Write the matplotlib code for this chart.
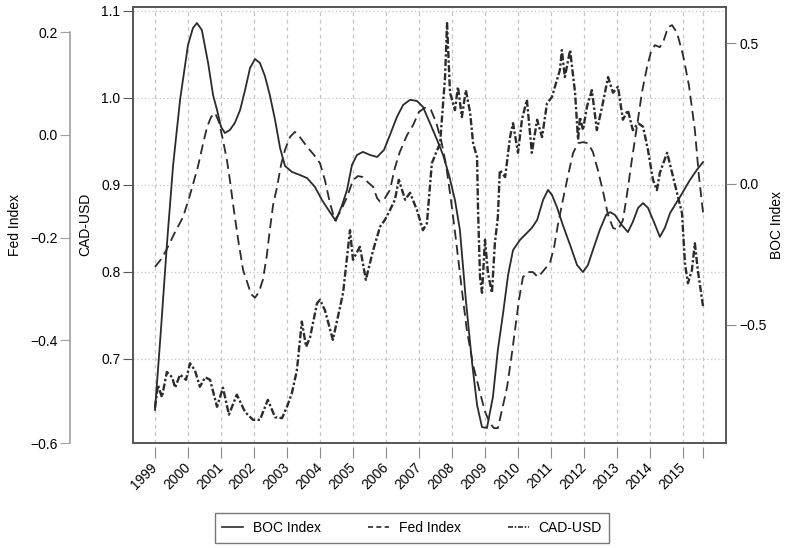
import matplotlib
matplotlib.use('Agg')
import matplotlib.pyplot as plt
from matplotlib.lines import Line2D

plt.rcParams['font.family'] = ['Liberation Sans', 'DejaVu Sans']
plt.rcParams['font.size'] = 10

LINE = '#2b2b2b'
BOX = '#555555'
GRID = '#c4c4c4'

# CAD-USD exchange rate (decimal year, level)
cad_year = [1999.00, 1999.09, 1999.21, 1999.36, 1999.52, 1999.61, 1999.76, 1999.85, 1999.94,
            2000.06, 2000.21, 2000.36, 2000.52, 2000.67, 2000.88, 2001.06, 2001.24, 2001.48,
            2001.73, 2001.97, 2002.18, 2002.42, 2002.64, 2002.85, 2003.00, 2003.15, 2003.30,
            2003.45, 2003.58, 2003.70, 2003.91, 2004.00, 2004.15, 2004.39, 2004.61, 2004.70,
            2004.91, 2005.00, 2005.21, 2005.39, 2005.61, 2005.82, 2005.97, 2006.12, 2006.27,
            2006.39, 2006.58, 2006.73, 2006.94, 2007.12, 2007.24, 2007.39, 2007.55, 2007.64,
            2007.79, 2007.85, 2007.94, 2008.09, 2008.18, 2008.30, 2008.42, 2008.55, 2008.64,
            2008.76, 2008.79, 2008.85, 2008.91, 2009.00, 2009.09, 2009.21, 2009.30, 2009.39,
            2009.45, 2009.61, 2009.76, 2009.85, 2010.00, 2010.12, 2010.27, 2010.42, 2010.58,
            2010.73, 2010.88, 2011.03, 2011.12, 2011.27, 2011.33, 2011.42, 2011.58, 2011.73,
            2011.82, 2011.88, 2011.97, 2012.09, 2012.24, 2012.39, 2012.55, 2012.73, 2012.88,
            2013.03, 2013.18, 2013.33, 2013.48, 2013.64, 2013.79, 2013.94, 2014.09, 2014.21,
            2014.30, 2014.52, 2014.67, 2014.85, 2014.97, 2015.06, 2015.15, 2015.27, 2015.36,
            2015.45, 2015.61]
cad_usd = [0.644, 0.670, 0.656, 0.685, 0.679, 0.667, 0.682, 0.679, 0.676,
           0.695, 0.687, 0.668, 0.679, 0.676, 0.645, 0.667, 0.636, 0.659,
           0.639, 0.630, 0.630, 0.653, 0.633, 0.632, 0.645, 0.661, 0.687,
           0.743, 0.714, 0.725, 0.764, 0.768, 0.756, 0.722, 0.760, 0.776,
           0.848, 0.814, 0.829, 0.791, 0.825, 0.852, 0.860, 0.871, 0.883,
           0.906, 0.883, 0.891, 0.871, 0.848, 0.856, 0.925, 0.940, 0.948,
           1.024, 1.086, 1.006, 0.986, 1.013, 0.978, 1.009, 0.983, 0.948,
           0.932, 0.871, 0.794, 0.776, 0.837, 0.799, 0.776, 0.833, 0.863,
           0.917, 0.909, 0.955, 0.971, 0.937, 0.975, 0.998, 0.937, 0.975,
           0.955, 0.994, 1.001, 1.013, 1.032, 1.055, 1.024, 1.055, 1.006,
           0.952, 0.978, 0.963, 0.990, 1.009, 0.963, 0.990, 1.024, 1.006,
           1.013, 0.975, 0.986, 0.963, 0.971, 0.967, 0.940, 0.906, 0.894,
           0.914, 0.937, 0.914, 0.886, 0.868, 0.810, 0.787, 0.802, 0.833,
           0.802, 0.760]

# Bank of Canada index
boc_year = [1999.00, 1999.18, 1999.36, 1999.55, 1999.76, 2000.00, 2000.15, 2000.27, 2000.42,
            2000.61, 2000.76, 2000.88, 2001.00, 2001.12, 2001.27, 2001.42, 2001.58, 2001.73,
            2001.88, 2002.03, 2002.18, 2002.33, 2002.48, 2002.64, 2002.79, 2002.94, 2003.15,
            2003.39, 2003.61, 2003.85, 2004.06, 2004.30, 2004.48, 2004.67, 2004.82, 2004.97,
            2005.12, 2005.30, 2005.52, 2005.73, 2005.94, 2006.12, 2006.33, 2006.52, 2006.73,
            2006.94, 2007.12, 2007.33, 2007.55, 2007.73, 2007.91, 2008.09, 2008.24, 2008.42,
            2008.61, 2008.76, 2008.91, 2009.06, 2009.24, 2009.39, 2009.55, 2009.70, 2009.85,
            2010.06, 2010.27, 2010.42, 2010.58, 2010.76, 2010.91, 2011.03, 2011.18, 2011.36,
            2011.58, 2011.79, 2011.97, 2012.12, 2012.27, 2012.48, 2012.67, 2012.79, 2012.94,
            2013.12, 2013.33, 2013.48, 2013.64, 2013.79, 2013.94, 2014.12, 2014.30, 2014.45,
            2014.61, 2014.91, 2015.21, 2015.42, 2015.61]
boc_index = [-0.803, -0.519, -0.217, 0.068, 0.299, 0.494, 0.554, 0.572, 0.547,
             0.430, 0.316, 0.263, 0.203, 0.181, 0.192, 0.217, 0.263, 0.334,
             0.412, 0.444, 0.430, 0.384, 0.316, 0.227, 0.128, 0.064, 0.043,
             0.032, 0.021, -0.011, -0.057, -0.100, -0.131, -0.075, -0.021, 0.068,
             0.103, 0.114, 0.103, 0.096, 0.121, 0.174, 0.238, 0.281, 0.299,
             0.295, 0.274, 0.217, 0.156, 0.103, 0.032, -0.057, -0.163, -0.412,
             -0.636, -0.785, -0.864, -0.867, -0.757, -0.590, -0.458, -0.323, -0.235,
             -0.199, -0.174, -0.156, -0.128, -0.057, -0.021, -0.039, -0.082, -0.146,
             -0.217, -0.288, -0.313, -0.288, -0.235, -0.163, -0.110, -0.100, -0.110,
             -0.142, -0.171, -0.135, -0.085, -0.068, -0.085, -0.135, -0.188, -0.156,
             -0.103, -0.046, 0.014, 0.050, 0.078]

# Federal Reserve index
fed_year = [1999.00, 1999.21, 1999.36, 1999.61, 1999.85, 2000.06, 2000.30, 2000.45, 2000.58,
            2000.70, 2000.82, 2000.94, 2001.06, 2001.18, 2001.27, 2001.39, 2001.52, 2001.67,
            2001.79, 2001.91, 2002.03, 2002.15, 2002.27, 2002.39, 2002.48, 2002.58, 2002.70,
            2002.82, 2002.94, 2003.09, 2003.24, 2003.39, 2003.61, 2003.82, 2004.00, 2004.15,
            2004.30, 2004.45, 2004.61, 2004.82, 2005.00, 2005.15, 2005.30, 2005.45, 2005.61,
            2005.73, 2005.82, 2005.97, 2006.12, 2006.27, 2006.42, 2006.64, 2006.82, 2007.00,
            2007.18, 2007.36, 2007.52, 2007.67, 2007.82, 2007.97, 2008.12, 2008.30, 2008.45,
            2008.64, 2008.85, 2009.00, 2009.15, 2009.27, 2009.39, 2009.55, 2009.67, 2009.79,
            2009.91, 2010.03, 2010.15, 2010.30, 2010.45, 2010.61, 2010.79, 2010.97, 2011.09,
            2011.21, 2011.36, 2011.52, 2011.67, 2011.82, 2011.97, 2012.12, 2012.27, 2012.42,
            2012.58, 2012.73, 2012.88, 2013.03, 2013.18, 2013.30, 2013.45, 2013.61, 2013.76,
            2013.91, 2014.03, 2014.15, 2014.30, 2014.42, 2014.55, 2014.67, 2014.82, 2015.00,
            2015.18, 2015.36, 2015.48, 2015.61]
fed_index = [-0.257, -0.240, -0.222, -0.189, -0.160, -0.117, -0.062, -0.019, 0.016,
             0.035, 0.043, 0.025, -0.010, -0.049, -0.088, -0.146, -0.204, -0.263,
             -0.286, -0.310, -0.317, -0.306, -0.282, -0.234, -0.185, -0.136, -0.101,
             -0.058, -0.029, -0.004, 0.006, -0.004, -0.023, -0.039, -0.055, -0.088,
             -0.132, -0.166, -0.150, -0.121, -0.088, -0.080, -0.082, -0.092, -0.101,
             -0.123, -0.130, -0.123, -0.107, -0.064, -0.033, 0.000, 0.019, 0.045,
             0.053, 0.049, 0.025, -0.010, -0.058, -0.127, -0.204, -0.302, -0.380,
             -0.448, -0.502, -0.539, -0.561, -0.571, -0.571, -0.526, -0.491, -0.438,
             -0.380, -0.321, -0.277, -0.267, -0.267, -0.277, -0.263, -0.249, -0.220,
             -0.175, -0.127, -0.078, -0.035, -0.016, -0.014, -0.016, -0.033, -0.068,
             -0.111, -0.156, -0.181, -0.185, -0.166, -0.117, -0.049, 0.019, 0.084,
             0.132, 0.162, 0.175, 0.171, 0.185, 0.210, 0.214, 0.199, 0.156,
             0.097, 0.010, -0.078, -0.152]

year_ticks = list(range(1999, 2016))
cad_ticks = [0.7, 0.8, 0.9, 1.0, 1.1]
fed_ticks = [-0.6, -0.4, -0.2, 0.0, 0.2]
boc_ticks = [-0.5, 0.0, 0.5]

fig = plt.figure(figsize=(7.85, 5.48), dpi=100)
ax = fig.add_axes([0.1694, 0.1916, 0.7554, 0.7962])

# grid first so every series sits above it
x_ticks = year_ticks + [cad_year[-1]]
for xt in x_ticks:
    ax.axvline(xt, color=GRID, lw=0.9, ls=(0, (3, 3)), zorder=0)
for yt in cad_ticks:
    ax.axhline(yt, color=GRID, lw=0.9, ls=(0, (1, 2)), zorder=0)

ax.plot(cad_year, cad_usd, color=LINE, lw=1.7, ls=(0, (3, 1, 1, 1)), zorder=3)
ax.set_xlim(1998.333, 2016.303)
ax.set_ylim(0.6034, 1.1049)
ax.set_yticks(cad_ticks)
ax.set_yticklabels(['0.7', '0.8', '0.9', '1.0', '1.1'])
ax.set_ylabel('CAD-USD', fontsize=10)
ax.yaxis.set_label_coords(-0.069, 0.5)

# box around the plot; bottom edge drawn separately so x ticks sit just below it
for side in ['top', 'left', 'right']:
    ax.spines[side].set_color(BOX)
    ax.spines[side].set_linewidth(1.4)
ax.spines['bottom'].set_position(('outward', 3))
ax.spines['bottom'].set_color('none')
ax.plot([0, 1], [0, 0], transform=ax.transAxes, color=BOX, lw=1.4,
        clip_on=False, zorder=5)

# Fed index on a detached axis far left
ax_fed = ax.twinx()
ax_fed.plot(fed_year, fed_index, color=LINE, lw=1.3, ls=(0, (5.5, 3)))
ax_fed.set_ylim(-0.5998, 0.2499)
ax_fed.yaxis.set_ticks_position('left')
ax_fed.yaxis.set_label_position('left')
ax_fed.spines['left'].set_position(('outward', 45.4))
ax_fed.spines['left'].set_bounds(-0.6, 0.2)
ax_fed.spines['left'].set_color('#a0a0a0')
ax_fed.spines['left'].set_linewidth(1.2)
for side in ['top', 'right', 'bottom']:
    ax_fed.spines[side].set_visible(False)
ax_fed.set_yticks(fed_ticks)
ax_fed.tick_params(axis='y', length=7, color='#a0a0a0', pad=2)
ax_fed.set_ylabel('Fed Index', fontsize=10)
ax_fed.yaxis.set_label_coords(-0.1875, 0.5)

# BOC index on the right
ax_boc = ax.twinx()
ax_boc.plot(boc_year, boc_index, color=LINE, lw=1.3)
ax_boc.set_ylim(-0.9204, 0.630)
ax_boc.set_yticks(boc_ticks)
ax_boc.tick_params(axis='y', length=7, color='#8a8a8a', pad=3)
for side in ['top', 'left', 'bottom', 'right']:
    ax_boc.spines[side].set_visible(False)
ax_boc.set_ylabel('BOC Index', fontsize=10)
ax_boc.yaxis.set_label_coords(1.0742, 0.5)

# year ticks, set after the twins so the rotation sticks
ax.set_xticks(x_ticks)
ax.set_xticklabels([str(y) for y in year_ticks] + [''])
ax.tick_params(axis='x', length=8, color='#8a8a8a', pad=5, labelrotation=45)
ax.tick_params(axis='y', length=7, color=BOX, pad=2)
for lab in ax.get_xticklabels():
    lab.set_ha('right')
    lab.set_va('center')
    lab.set_rotation_mode('anchor')

handles = [
    Line2D([], [], color=LINE, lw=1.2),
    Line2D([], [], color=LINE, lw=1.2, ls=(0, (3, 2))),
    Line2D([], [], color=LINE, lw=1.2, ls=(0, (3, 1, 1, 1))),
]
leg = fig.legend(handles, ['BOC Index', 'Fed Index', 'CAD-USD'], ncol=3,
                 loc='center', bbox_to_anchor=(412 / 785, 1 - 528 / 548),
                 fontsize=10, handlelength=1.5, handletextpad=0.7,
                 columnspacing=3.4, fancybox=False, borderpad=0.55,
                 borderaxespad=0)
leg.get_frame().set_edgecolor(BOX)
leg.get_frame().set_linewidth(1.0)

fig.savefig('out.png', dpi=100)
